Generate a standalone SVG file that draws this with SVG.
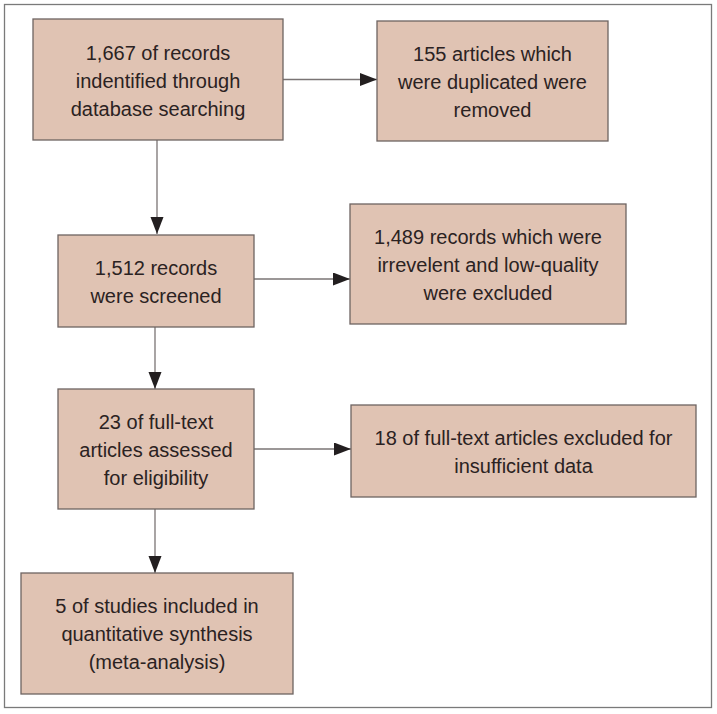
<svg xmlns="http://www.w3.org/2000/svg" width="717" height="714" viewBox="0 0 717 714">
<style>
.box{fill:#e0c3b3;stroke:#6e6462;stroke-width:1.3}
.t{font-family:"Liberation Sans",Arial,sans-serif;font-size:20px;fill:#2b2222;text-anchor:middle}
.c{stroke:#7a7474;stroke-width:1.3;fill:none}
</style>
<defs>
<marker id="ah" markerUnits="userSpaceOnUse" markerWidth="18" markerHeight="14" refX="17" refY="6.5" orient="auto">
<path d="M0,0 L17,6.5 L0,13 Z" fill="#231f20"/>
</marker>
</defs>
<rect x="4.5" y="4.5" width="707" height="703" fill="#fff" stroke="#7a7a7a" stroke-width="1.3"/>
<g id="connectors">
<line class="c" x1="157" y1="140" x2="157" y2="234" marker-end="url(#ah)"/>
<line class="c" x1="283" y1="79.5" x2="377" y2="79.5" marker-end="url(#ah)"/>
<line class="c" x1="254" y1="279" x2="350" y2="279" marker-end="url(#ah)"/>
<line class="c" x1="155" y1="327" x2="155" y2="389" marker-end="url(#ah)"/>
<line class="c" x1="254" y1="449" x2="351" y2="449" marker-end="url(#ah)"/>
<line class="c" x1="155" y1="509" x2="155" y2="573" marker-end="url(#ah)"/>
</g>
<g id="n1">
<rect class="box" x="33" y="19" width="250" height="121"/>
<text class="t" x="158" y="60">1,667 of records</text>
<text class="t" x="158" y="88">indentified through</text>
<text class="t" x="158" y="116">database searching</text>
</g>
<g id="n2">
<rect class="box" x="377" y="21" width="231" height="120"/>
<text class="t" x="492.5" y="61">155 articles which</text>
<text class="t" x="492.5" y="89">were duplicated were</text>
<text class="t" x="492.5" y="117">removed</text>
</g>
<g id="n3">
<rect class="box" x="58" y="235" width="196" height="92"/>
<text class="t" x="156" y="275">1,512 records</text>
<text class="t" x="156" y="303">were screened</text>
</g>
<g id="n4">
<rect class="box" x="350" y="204" width="276" height="120"/>
<text class="t" x="488" y="244">1,489 records which were</text>
<text class="t" x="488" y="272">irrevelent and low-quality</text>
<text class="t" x="488" y="300">were excluded</text>
</g>
<g id="n5">
<rect class="box" x="58" y="389" width="196" height="120"/>
<text class="t" x="156" y="429">23 of full-text</text>
<text class="t" x="156" y="457">articles assessed</text>
<text class="t" x="156" y="485">for eligibility</text>
</g>
<g id="n6">
<rect class="box" x="351" y="405" width="345" height="92"/>
<text class="t" x="523.5" y="445">18 of full-text articles excluded for</text>
<text class="t" x="523.5" y="473">insufficient data</text>
</g>
<g id="n7">
<rect class="box" x="21" y="573" width="272" height="121"/>
<text class="t" x="157" y="613">5 of studies included in</text>
<text class="t" x="157" y="641">quantitative synthesis</text>
<text class="t" x="157" y="669">(meta-analysis)</text>
</g>
</svg>
